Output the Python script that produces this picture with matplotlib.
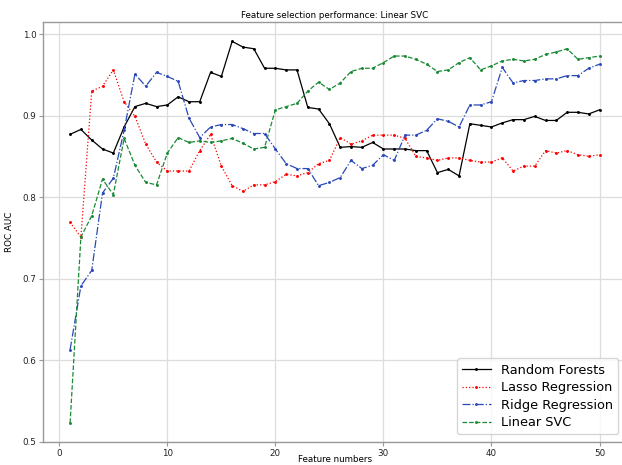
import matplotlib
matplotlib.use("Agg")
import matplotlib.pyplot as plt
import numpy as np

features = list(range(1, 51))

random_forests = [0.877, 0.883, 0.870, 0.859, 0.854, 0.886, 0.911, 0.915, 0.911, 0.913,
                  0.923, 0.917, 0.917, 0.953, 0.948, 0.991, 0.984, 0.982, 0.958, 0.958,
                  0.956, 0.956, 0.910, 0.908, 0.890, 0.861, 0.862, 0.861, 0.867, 0.859,
                  0.859, 0.859, 0.857, 0.857, 0.830, 0.834, 0.826, 0.890, 0.888, 0.886,
                  0.891, 0.895, 0.895, 0.899, 0.894, 0.894, 0.904, 0.904, 0.902, 0.907]

lasso = [0.769, 0.751, 0.930, 0.936, 0.956, 0.917, 0.899, 0.865, 0.843, 0.832,
         0.832, 0.832, 0.857, 0.877, 0.838, 0.814, 0.807, 0.815, 0.815, 0.819,
         0.828, 0.826, 0.830, 0.841, 0.845, 0.873, 0.865, 0.869, 0.876, 0.876,
         0.876, 0.872, 0.850, 0.848, 0.845, 0.848, 0.848, 0.845, 0.843, 0.843,
         0.848, 0.832, 0.838, 0.838, 0.857, 0.854, 0.857, 0.852, 0.850, 0.852]

ridge = [0.613, 0.691, 0.710, 0.805, 0.823, 0.882, 0.951, 0.936, 0.953, 0.948,
         0.942, 0.897, 0.873, 0.886, 0.889, 0.889, 0.884, 0.878, 0.878, 0.859,
         0.841, 0.835, 0.835, 0.814, 0.818, 0.824, 0.845, 0.835, 0.839, 0.852,
         0.845, 0.876, 0.876, 0.882, 0.896, 0.893, 0.886, 0.913, 0.913, 0.917,
         0.959, 0.940, 0.943, 0.943, 0.945, 0.945, 0.949, 0.949, 0.958, 0.963]

linear_svc = [0.523, 0.751, 0.777, 0.822, 0.803, 0.872, 0.839, 0.818, 0.815, 0.854,
              0.873, 0.867, 0.869, 0.867, 0.869, 0.872, 0.866, 0.859, 0.861, 0.907,
              0.911, 0.915, 0.930, 0.941, 0.932, 0.940, 0.954, 0.958, 0.958, 0.965,
              0.973, 0.973, 0.969, 0.963, 0.954, 0.956, 0.965, 0.971, 0.956, 0.961,
              0.967, 0.969, 0.967, 0.969, 0.975, 0.978, 0.982, 0.969, 0.971, 0.973]

series_names = ["Random Forests", "Lasso Regression", "Ridge Regression", "Linear SVC"]

fig = plt.figure(figsize=(6.22, 4.65), dpi=100)
ax = fig.add_axes([43.3 / 622, 23 / 465, (626 - 43.3) / 622, (442 - 22.3) / 465])

common = dict(marker=".", markersize=2.2, linewidth=0.9)
ax.plot(features, random_forests, color="k", linestyle="-", label=series_names[0], **common)
ax.plot(features, lasso, color="r", linestyle=":", label=series_names[1], **common)
ax.plot(features, ridge, color="#2a48b8", linestyle="-.", label=series_names[2], **common)
ax.plot(features, linear_svc, color="#1a8a35", linestyle="--", label=series_names[3], **common)

ax.set_xlim(-1.48, 52.45)
ax.set_ylim(0.4996, 1.0144)
ax.set_xticks([0, 10, 20, 30, 40, 50])
ax.set_yticks([0.5, 0.6, 0.7, 0.8, 0.9, 1.0])
ax.grid(True, color="#dddddd", linewidth=0.9)
ax.set_axisbelow(True)
for s in ax.spines.values():
    s.set_color("#999999")
    s.set_linewidth(1.0)
ax.tick_params(axis="both", labelsize=6.3, color="#999999", length=3, width=0.8, pad=2, labelcolor="#222222")

ax.set_title("Feature selection performance: Linear SVC", fontsize=6.3, pad=3)
ax.set_xlabel("Feature numbers", fontsize=6.3, va="bottom")
ax.xaxis.set_label_coords(0.5, -21.5 / 419.7)
ax.set_ylabel("ROC AUC", fontsize=6.3, labelpad=6)

ax.legend(loc="lower right", fontsize=9.3, handlelength=2.2, borderaxespad=0.6, labelspacing=0.35)

fig.savefig("out.png", dpi=100)
